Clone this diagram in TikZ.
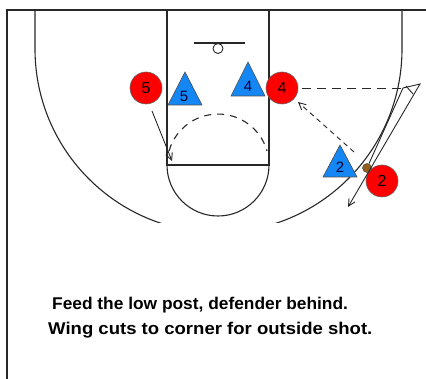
\documentclass[tikz,border=0pt]{standalone}
\usepackage{fontspec}
\setmainfont{Liberation Sans}
\usetikzlibrary{arrows.meta}
\definecolor{pred}{RGB}{255,0,0}
\definecolor{pblue}{RGB}{20,135,245}
\definecolor{ballc}{RGB}{150,95,25}
\definecolor{ink}{RGB}{40,40,40}
\begin{document}
\begin{tikzpicture}[x=1pt,y=-1pt,
  court/.style={draw=ink,line width=1.1pt},
  off/.style={circle,draw=black!60,line width=0.6pt,fill=pred,minimum size=32pt,inner sep=0pt,font=\fontsize{16}{16}\selectfont},
  def/.style={draw=black!70,line width=0.6pt,fill=pblue},
  deflab/.style={inner sep=0pt,font=\fontsize{15}{15}\selectfont,text=black!80!blue},
  cut/.style={draw=ink,line width=0.9pt},
  pass/.style={draw=ink,line width=0.9pt,dash pattern=on 7pt off 5pt},
  tip/.style={-{Straight Barb[length=7pt,width=7pt]}},
  caption/.style={anchor=base west,inner sep=0pt,font=\fontsize{17}{17}\selectfont\bfseries}]
\useasboundingbox (0,0) rectangle (426,379);
\fill[white] (0,0) rectangle (426,379);
% frame
\draw[court] (7,379) -- (7,10) -- (426,10);
% court
\begin{scope}
\clip (7,10) rectangle (426,223);
\draw[court] (35,10) -- (35,49) arc[start angle=180,end angle=0,radius=183.5] -- (402,10);
\end{scope}
\draw[court] (167,10) -- (167,165) -- (269,165) -- (269,10);
\draw[court] (167,165) arc[start angle=180,end angle=0,radius=51];
\draw[court,dash pattern=on 7pt off 6pt] (169,151) arc[start angle=196,end angle=344,radius=51];
\draw[court] (194,43) -- (245,43);
\node[circle,draw=ink,line width=0.9pt,minimum size=10pt,inner sep=0pt] (hoop) at (218,48.5) {};
% defenders
\path[def] (185,72) -- (202,105) -- (168,105) -- cycle;
\node[deflab] (d5) at (184,96) {5};
\path[def] (248,62) -- (265,96) -- (231,96) -- cycle;
\node[deflab] (d4) at (248,86) {4};
\path[def] (340,145) -- (357,177) -- (323,177) -- cycle;
\node[deflab] (d2) at (340,167) {2};
% offense
\node[off] (o5) at (146,88) {5};
\node[off] (o4) at (282,88) {4};
\node[off] (o2) at (382,181) {2};
\node[circle,draw=black!70,line width=0.5pt,fill=ballc,minimum size=9pt,inner sep=0pt] (ball) at (367,168) {};
% movements
\coordinate (c5a) at (152,111);
\coordinate (c5b) at (172,161);
\draw[cut,tip] (c5a) -- (c5b);
\coordinate (p2a) at (354,152);
\coordinate (p2b) at (298,102);
\draw[pass,dash pattern=on 5pt off 4pt,tip] (p2a) -- (p2b);
\coordinate (p4b) at (402,88);
\draw[pass,dash pattern=on 9pt off 6pt] (o4.east) ++(4,0) -- (p4b);
\coordinate (vtop) at (403,88);
\coordinate (vtr) at (420,84);
\coordinate (vend) at (348,207);
\draw[cut,tip] (ball) -- (vtop) -- (vtr) -- (vend);
\draw[cut] (406,86) -- (413,94);
% caption
\node[caption] (t1) at (52,310) {\scalebox{1.02}[1]{Feed the low post, defender behind.}};
\node[caption] (t2) at (48,335) {\scalebox{1.09}[1]{Wing cuts to corner for outside shot.}};
\end{tikzpicture}
\end{document}
